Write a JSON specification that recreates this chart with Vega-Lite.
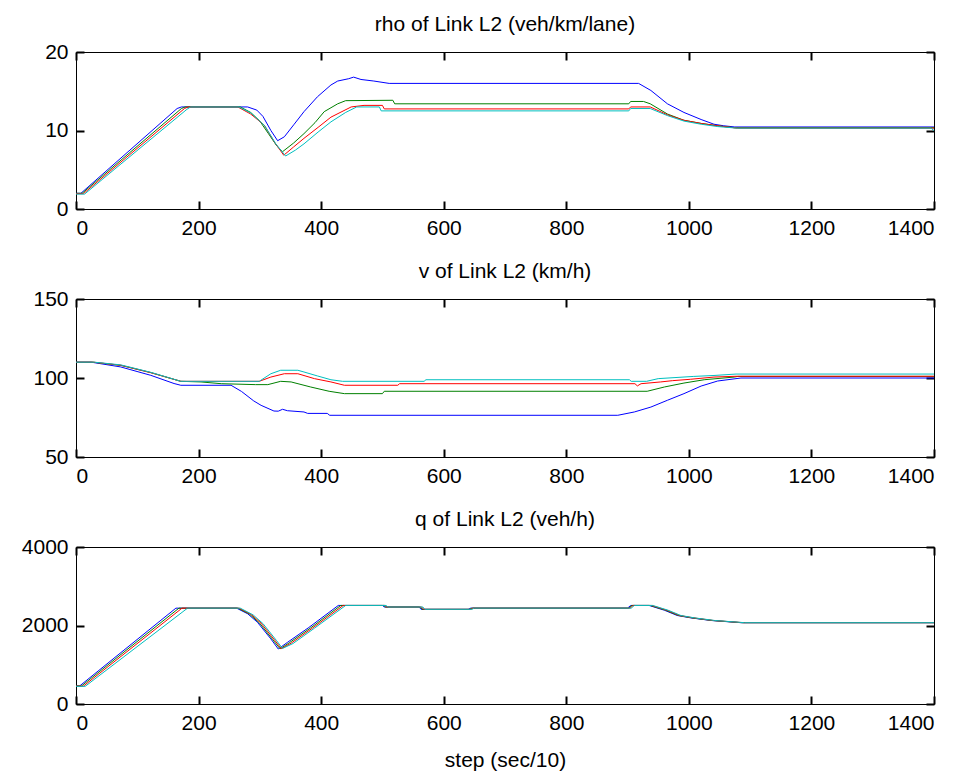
{
  "$schema": "https://vega.github.io/schema/vega-lite/v6.json",
  "padding": {"left": 20, "top": 13, "right": 10, "bottom": 5},
  "background": "white",
  "spacing": 90,
  "bounds": "flush",
  "config": {
    "view": {"stroke": "black", "strokeWidth": 1},
    "font": "Liberation Sans",
    "axis": {
      "grid": false,
      "format": "d",
      "labelFont": "Liberation Sans",
      "labelFontSize": 21,
      "labelColor": "black",
      "domain": false,
      "titleFont": "Liberation Sans",
      "titleFontSize": 21,
      "titleFontWeight": "normal",
      "titleColor": "black"
    },
    "title": {"font": "Liberation Sans", "fontSize": 21, "fontWeight": "normal", "color": "black", "frame": "group", "offset": 6}
  },
  "datasets": {
    "rho": [
      {"s":1,"t":0,"y":2.0},{"s":1,"t":8,"y":2.0},{"s":1,"t":165,"y":12.8},{"s":1,"t":172,"y":13.0},{"s":1,"t":280,"y":13.0},{"s":1,"t":295,"y":12.6},{"s":1,"t":305,"y":11.8},{"s":1,"t":318,"y":10.0},{"s":1,"t":329,"y":8.7},{"s":1,"t":340,"y":9.2},{"s":1,"t":356,"y":10.8},{"s":1,"t":372,"y":12.4},{"s":1,"t":394,"y":14.3},{"s":1,"t":416,"y":15.8},{"s":1,"t":427,"y":16.3},{"s":1,"t":445,"y":16.6},{"s":1,"t":453,"y":16.8},{"s":1,"t":465,"y":16.5},{"s":1,"t":486,"y":16.3},{"s":1,"t":511,"y":16.0},{"s":1,"t":918,"y":16.0},{"s":1,"t":938,"y":15.1},{"s":1,"t":965,"y":13.4},{"s":1,"t":992,"y":12.3},{"s":1,"t":1020,"y":11.4},{"s":1,"t":1041,"y":10.8},{"s":1,"t":1057,"y":10.6},{"s":1,"t":1075,"y":10.45},{"s":1,"t":1400,"y":10.45},
      {"s":2,"t":0,"y":2.0},{"s":2,"t":10,"y":2.0},{"s":2,"t":172,"y":12.8},{"s":2,"t":178,"y":13.0},{"s":2,"t":268,"y":13.0},{"s":2,"t":285,"y":12.3},{"s":2,"t":300,"y":11.2},{"s":2,"t":314,"y":9.6},{"s":2,"t":328,"y":8.0},{"s":2,"t":337,"y":7.3},{"s":2,"t":355,"y":8.4},{"s":2,"t":372,"y":9.6},{"s":2,"t":390,"y":11.0},{"s":2,"t":405,"y":12.4},{"s":2,"t":427,"y":13.4},{"s":2,"t":440,"y":13.8},{"s":2,"t":517,"y":13.85},{"s":2,"t":520,"y":13.4},{"s":2,"t":902,"y":13.4},{"s":2,"t":905,"y":13.7},{"s":2,"t":926,"y":13.7},{"s":2,"t":937,"y":13.4},{"s":2,"t":965,"y":12.1},{"s":2,"t":992,"y":11.3},{"s":2,"t":1020,"y":10.9},{"s":2,"t":1047,"y":10.6},{"s":2,"t":1075,"y":10.35},{"s":2,"t":1400,"y":10.35},
      {"s":3,"t":0,"y":1.95},{"s":3,"t":12,"y":1.95},{"s":3,"t":177,"y":12.8},{"s":3,"t":183,"y":13.0},{"s":3,"t":264,"y":13.0},{"s":3,"t":285,"y":12.1},{"s":3,"t":307,"y":10.7},{"s":3,"t":324,"y":8.5},{"s":3,"t":339,"y":6.85},{"s":3,"t":355,"y":7.9},{"s":3,"t":372,"y":9.0},{"s":3,"t":395,"y":10.4},{"s":3,"t":416,"y":11.7},{"s":3,"t":449,"y":13.0},{"s":3,"t":470,"y":13.2},{"s":3,"t":500,"y":13.2},{"s":3,"t":503,"y":12.75},{"s":3,"t":902,"y":12.75},{"s":3,"t":905,"y":13.0},{"s":3,"t":937,"y":13.0},{"s":3,"t":965,"y":12.0},{"s":3,"t":992,"y":11.3},{"s":3,"t":1020,"y":10.9},{"s":3,"t":1047,"y":10.6},{"s":3,"t":1079,"y":10.3},{"s":3,"t":1400,"y":10.3},
      {"s":4,"t":0,"y":1.9},{"s":4,"t":14,"y":1.9},{"s":4,"t":181,"y":12.7},{"s":4,"t":187,"y":13.0},{"s":4,"t":266,"y":13.0},{"s":4,"t":286,"y":12.2},{"s":4,"t":308,"y":10.6},{"s":4,"t":326,"y":8.3},{"s":4,"t":342,"y":6.75},{"s":4,"t":358,"y":7.5},{"s":4,"t":372,"y":8.3},{"s":4,"t":395,"y":9.8},{"s":4,"t":416,"y":11.1},{"s":4,"t":440,"y":12.3},{"s":4,"t":458,"y":13.0},{"s":4,"t":495,"y":13.0},{"s":4,"t":498,"y":12.5},{"s":4,"t":902,"y":12.5},{"s":4,"t":905,"y":12.8},{"s":4,"t":937,"y":12.8},{"s":4,"t":965,"y":11.9},{"s":4,"t":992,"y":11.2},{"s":4,"t":1020,"y":10.8},{"s":4,"t":1047,"y":10.5},{"s":4,"t":1079,"y":10.3},{"s":4,"t":1395,"y":10.3},{"s":4,"t":1400,"y":10.0}
    ],
    "v": [
      {"s":1,"t":0,"y":110},{"s":1,"t":25,"y":110},{"s":1,"t":73,"y":107},{"s":1,"t":122,"y":101.7},{"s":1,"t":160,"y":96.5},{"s":1,"t":171,"y":95.4},{"s":1,"t":253,"y":95.4},{"s":1,"t":270,"y":91.5},{"s":1,"t":290,"y":85.5},{"s":1,"t":302,"y":82.7},{"s":1,"t":323,"y":79.1},{"s":1,"t":330,"y":79.0},{"s":1,"t":337,"y":80.2},{"s":1,"t":345,"y":79.3},{"s":1,"t":372,"y":78.5},{"s":1,"t":378,"y":77.6},{"s":1,"t":410,"y":77.6},{"s":1,"t":414,"y":76.4},{"s":1,"t":884,"y":76.4},{"s":1,"t":911,"y":78.5},{"s":1,"t":938,"y":81.6},{"s":1,"t":965,"y":85.9},{"s":1,"t":992,"y":90.1},{"s":1,"t":1020,"y":94.9},{"s":1,"t":1047,"y":98.1},{"s":1,"t":1085,"y":100},{"s":1,"t":1400,"y":100},
      {"s":2,"t":0,"y":110},{"s":2,"t":28,"y":110},{"s":2,"t":73,"y":108},{"s":2,"t":122,"y":103.4},{"s":2,"t":171,"y":97.9},{"s":2,"t":204,"y":97.5},{"s":2,"t":237,"y":96.4},{"s":2,"t":293,"y":95.8},{"s":2,"t":313,"y":95.8},{"s":2,"t":334,"y":97.9},{"s":2,"t":351,"y":97.5},{"s":2,"t":383,"y":94.3},{"s":2,"t":413,"y":91.6},{"s":2,"t":438,"y":90.1},{"s":2,"t":500,"y":90.1},{"s":2,"t":503,"y":91.6},{"s":2,"t":932,"y":91.6},{"s":2,"t":960,"y":94.3},{"s":2,"t":992,"y":96.8},{"s":2,"t":1025,"y":98.9},{"s":2,"t":1074,"y":100.6},{"s":2,"t":1080,"y":101},{"s":2,"t":1400,"y":101},
      {"s":3,"t":0,"y":110},{"s":3,"t":28,"y":110},{"s":3,"t":73,"y":108.1},{"s":3,"t":122,"y":103.4},{"s":3,"t":171,"y":97.9},{"s":3,"t":299,"y":97.9},{"s":3,"t":318,"y":100.6},{"s":3,"t":340,"y":102.7},{"s":3,"t":362,"y":102.7},{"s":3,"t":389,"y":99.6},{"s":3,"t":416,"y":97.5},{"s":3,"t":438,"y":95.4},{"s":3,"t":525,"y":95.4},{"s":3,"t":528,"y":96.4},{"s":3,"t":912,"y":96.4},{"s":3,"t":916,"y":95.0},{"s":3,"t":922,"y":96.4},{"s":3,"t":954,"y":97.5},{"s":3,"t":973,"y":98.3},{"s":3,"t":1003,"y":99.2},{"s":3,"t":1041,"y":100.6},{"s":3,"t":1077,"y":101.1},{"s":3,"t":1400,"y":101.1},
      {"s":4,"t":0,"y":110},{"s":4,"t":30,"y":110},{"s":4,"t":73,"y":108.3},{"s":4,"t":122,"y":103.6},{"s":4,"t":171,"y":97.9},{"s":4,"t":299,"y":97.9},{"s":4,"t":318,"y":102.7},{"s":4,"t":334,"y":104.9},{"s":4,"t":362,"y":104.9},{"s":4,"t":372,"y":103.8},{"s":4,"t":394,"y":101.3},{"s":4,"t":416,"y":98.9},{"s":4,"t":435,"y":97.9},{"s":4,"t":568,"y":97.9},{"s":4,"t":571,"y":98.9},{"s":4,"t":903,"y":98.9},{"s":4,"t":906,"y":97.9},{"s":4,"t":931,"y":97.9},{"s":4,"t":950,"y":99.6},{"s":4,"t":1008,"y":101},{"s":4,"t":1041,"y":101.6},{"s":4,"t":1077,"y":102.5},{"s":4,"t":1400,"y":102.5}
    ],
    "q": [
      {"s":1,"t":0,"y":460},{"s":1,"t":6,"y":460},{"s":1,"t":163,"y":2442},{"s":1,"t":262,"y":2442},{"s":1,"t":280,"y":2300},{"s":1,"t":296,"y":2084},{"s":1,"t":318,"y":1658},{"s":1,"t":330,"y":1402},{"s":1,"t":345,"y":1570},{"s":1,"t":380,"y":1950},{"s":1,"t":428,"y":2511},{"s":1,"t":500,"y":2511},{"s":1,"t":503,"y":2471},{"s":1,"t":560,"y":2471},{"s":1,"t":563,"y":2412},{"s":1,"t":640,"y":2412},{"s":1,"t":644,"y":2442},{"s":1,"t":900,"y":2442},{"s":1,"t":905,"y":2511},{"s":1,"t":935,"y":2511},{"s":1,"t":960,"y":2390},{"s":1,"t":981,"y":2255},{"s":1,"t":1003,"y":2195},{"s":1,"t":1036,"y":2128},{"s":1,"t":1085,"y":2072},{"s":1,"t":1400,"y":2072},
      {"s":2,"t":0,"y":460},{"s":2,"t":9,"y":460},{"s":2,"t":168,"y":2442},{"s":2,"t":264,"y":2442},{"s":2,"t":283,"y":2290},{"s":2,"t":299,"y":2070},{"s":2,"t":321,"y":1640},{"s":2,"t":333,"y":1405},{"s":2,"t":348,"y":1560},{"s":2,"t":383,"y":1940},{"s":2,"t":432,"y":2511},{"s":2,"t":502,"y":2511},{"s":2,"t":505,"y":2471},{"s":2,"t":562,"y":2471},{"s":2,"t":565,"y":2412},{"s":2,"t":642,"y":2412},{"s":2,"t":646,"y":2442},{"s":2,"t":902,"y":2442},{"s":2,"t":907,"y":2511},{"s":2,"t":937,"y":2511},{"s":2,"t":962,"y":2390},{"s":2,"t":983,"y":2255},{"s":2,"t":1005,"y":2195},{"s":2,"t":1038,"y":2128},{"s":2,"t":1087,"y":2072},{"s":2,"t":1400,"y":2072},
      {"s":3,"t":0,"y":455},{"s":3,"t":12,"y":455},{"s":3,"t":173,"y":2442},{"s":3,"t":266,"y":2442},{"s":3,"t":286,"y":2280},{"s":3,"t":302,"y":2060},{"s":3,"t":324,"y":1630},{"s":3,"t":335,"y":1410},{"s":3,"t":351,"y":1550},{"s":3,"t":386,"y":1935},{"s":3,"t":436,"y":2511},{"s":3,"t":504,"y":2511},{"s":3,"t":507,"y":2471},{"s":3,"t":564,"y":2471},{"s":3,"t":567,"y":2412},{"s":3,"t":644,"y":2412},{"s":3,"t":648,"y":2442},{"s":3,"t":904,"y":2442},{"s":3,"t":909,"y":2511},{"s":3,"t":939,"y":2511},{"s":3,"t":964,"y":2390},{"s":3,"t":985,"y":2255},{"s":3,"t":1007,"y":2195},{"s":3,"t":1040,"y":2128},{"s":3,"t":1089,"y":2072},{"s":3,"t":1400,"y":2072},
      {"s":4,"t":0,"y":450},{"s":4,"t":15,"y":450},{"s":4,"t":182,"y":2442},{"s":4,"t":268,"y":2442},{"s":4,"t":289,"y":2270},{"s":4,"t":305,"y":2050},{"s":4,"t":327,"y":1620},{"s":4,"t":337,"y":1415},{"s":4,"t":354,"y":1540},{"s":4,"t":389,"y":1930},{"s":4,"t":440,"y":2511},{"s":4,"t":506,"y":2511},{"s":4,"t":509,"y":2471},{"s":4,"t":566,"y":2471},{"s":4,"t":569,"y":2412},{"s":4,"t":646,"y":2412},{"s":4,"t":650,"y":2442},{"s":4,"t":906,"y":2442},{"s":4,"t":911,"y":2511},{"s":4,"t":941,"y":2511},{"s":4,"t":966,"y":2390},{"s":4,"t":987,"y":2255},{"s":4,"t":1009,"y":2195},{"s":4,"t":1042,"y":2128},{"s":4,"t":1091,"y":2072},{"s":4,"t":1400,"y":2072}
    ]
  },
  "vconcat": [
    {
      "width": 858, "height": 157,
      "title": {"text": "rho of Link L2 (veh/km/lane)"},
      "data": {"name": "rho"},
      "resolve": {"axis": {"x": "independent", "y": "independent"}},
      "layer": [
        {
          "mark": {"type": "line", "strokeWidth": 1, "interpolate": "linear"},
          "encoding": {
            "x": {"field": "t", "type": "quantitative", "scale": {"domain": [0, 1400], "nice": false}, "axis": {"orient": "bottom", "values": [0,200,400,600,800,1000,1200,1400], "ticks": false, "tickSize": 0, "labelPadding": 8, "title": null}},
            "y": {"field": "y", "type": "quantitative", "scale": {"domain": [0, 20], "nice": false, "zero": false}, "axis": {"orient": "left", "values": [0,10,20], "ticks": false, "tickSize": 0, "labelPadding": 8, "title": null}},
            "color": {"field": "s", "type": "nominal", "scale": {"domain": [1,2,3,4], "range": ["#0000ff","#008000","#ff0000","#00bfbf"]}, "legend": null}
          }
        },
        {
          "mark": {"type": "point", "opacity": 0},
          "encoding": {
            "x": {"field": "t", "type": "quantitative", "axis": {"orient": "top", "offset": -8, "tickSize": 8, "tickWidth": 2, "tickColor": "#000000", "values": [0,200,400,600,800,1000,1200,1400], "labels": false, "title": null}},
            "y": {"field": "y", "type": "quantitative", "axis": {"orient": "right", "offset": -8, "tickSize": 8, "tickWidth": 2, "tickColor": "#000000", "values": [0,10,20], "labels": false, "title": null}}
          }
        },
        {
          "mark": {"type": "point", "opacity": 0},
          "encoding": {
            "x": {"field": "t", "type": "quantitative", "axis": {"orient": "bottom", "offset": -8, "tickSize": 8, "tickWidth": 2, "tickColor": "#000000", "values": [0,200,400,600,800,1000,1200,1400], "labels": false, "title": null}},
            "y": {"field": "y", "type": "quantitative", "axis": {"orient": "left", "offset": -8, "tickSize": 8, "tickWidth": 2, "tickColor": "#000000", "values": [0,10,20], "labels": false, "title": null}}
          }
        }
      ]
    },
    {
      "width": 858, "height": 158,
      "title": {"text": "v of Link L2 (km/h)"},
      "data": {"name": "v"},
      "resolve": {"axis": {"x": "independent", "y": "independent"}},
      "layer": [
        {
          "mark": {"type": "line", "strokeWidth": 1, "interpolate": "linear"},
          "encoding": {
            "x": {"field": "t", "type": "quantitative", "scale": {"domain": [0, 1400], "nice": false}, "axis": {"orient": "bottom", "values": [0,200,400,600,800,1000,1200,1400], "ticks": false, "tickSize": 0, "labelPadding": 8, "title": null}},
            "y": {"field": "y", "type": "quantitative", "scale": {"domain": [50, 150], "nice": false, "zero": false}, "axis": {"orient": "left", "values": [50,100,150], "ticks": false, "tickSize": 0, "labelPadding": 8, "title": null}},
            "color": {"field": "s", "type": "nominal", "scale": {"domain": [1,2,3,4], "range": ["#0000ff","#008000","#ff0000","#00bfbf"]}, "legend": null}
          }
        },
        {
          "mark": {"type": "point", "opacity": 0},
          "encoding": {
            "x": {"field": "t", "type": "quantitative", "axis": {"orient": "top", "offset": -8, "tickSize": 8, "tickWidth": 2, "tickColor": "#000000", "values": [0,200,400,600,800,1000,1200,1400], "labels": false, "title": null}},
            "y": {"field": "y", "type": "quantitative", "axis": {"orient": "right", "offset": -8, "tickSize": 8, "tickWidth": 2, "tickColor": "#000000", "values": [50,100,150], "labels": false, "title": null}}
          }
        },
        {
          "mark": {"type": "point", "opacity": 0},
          "encoding": {
            "x": {"field": "t", "type": "quantitative", "axis": {"orient": "bottom", "offset": -8, "tickSize": 8, "tickWidth": 2, "tickColor": "#000000", "values": [0,200,400,600,800,1000,1200,1400], "labels": false, "title": null}},
            "y": {"field": "y", "type": "quantitative", "axis": {"orient": "left", "offset": -8, "tickSize": 8, "tickWidth": 2, "tickColor": "#000000", "values": [50,100,150], "labels": false, "title": null}}
          }
        }
      ]
    },
    {
      "width": 858, "height": 157,
      "title": {"text": "q of Link L2 (veh/h)"},
      "data": {"name": "q"},
      "resolve": {"axis": {"x": "independent", "y": "independent"}},
      "layer": [
        {
          "mark": {"type": "line", "strokeWidth": 1, "interpolate": "linear"},
          "encoding": {
            "x": {"field": "t", "type": "quantitative", "scale": {"domain": [0, 1400], "nice": false}, "axis": {"orient": "bottom", "values": [0,200,400,600,800,1000,1200,1400], "ticks": false, "tickSize": 0, "labelPadding": 8, "title": "step (sec/10)", "titlePadding": 16}},
            "y": {"field": "y", "type": "quantitative", "scale": {"domain": [0, 4000], "nice": false, "zero": false}, "axis": {"orient": "left", "values": [0,2000,4000], "ticks": false, "tickSize": 0, "labelPadding": 8, "title": null}},
            "color": {"field": "s", "type": "nominal", "scale": {"domain": [1,2,3,4], "range": ["#0000ff","#008000","#ff0000","#00bfbf"]}, "legend": null}
          }
        },
        {
          "mark": {"type": "point", "opacity": 0},
          "encoding": {
            "x": {"field": "t", "type": "quantitative", "axis": {"orient": "top", "offset": -8, "tickSize": 8, "tickWidth": 2, "tickColor": "#000000", "values": [0,200,400,600,800,1000,1200,1400], "labels": false, "title": null}},
            "y": {"field": "y", "type": "quantitative", "axis": {"orient": "right", "offset": -8, "tickSize": 8, "tickWidth": 2, "tickColor": "#000000", "values": [0,2000,4000], "labels": false, "title": null}}
          }
        },
        {
          "mark": {"type": "point", "opacity": 0},
          "encoding": {
            "x": {"field": "t", "type": "quantitative", "axis": {"orient": "bottom", "offset": -8, "tickSize": 8, "tickWidth": 2, "tickColor": "#000000", "values": [0,200,400,600,800,1000,1200,1400], "labels": false, "title": null}},
            "y": {"field": "y", "type": "quantitative", "axis": {"orient": "left", "offset": -8, "tickSize": 8, "tickWidth": 2, "tickColor": "#000000", "values": [0,2000,4000], "labels": false, "title": null}}
          }
        }
      ]
    }
  ]
}
